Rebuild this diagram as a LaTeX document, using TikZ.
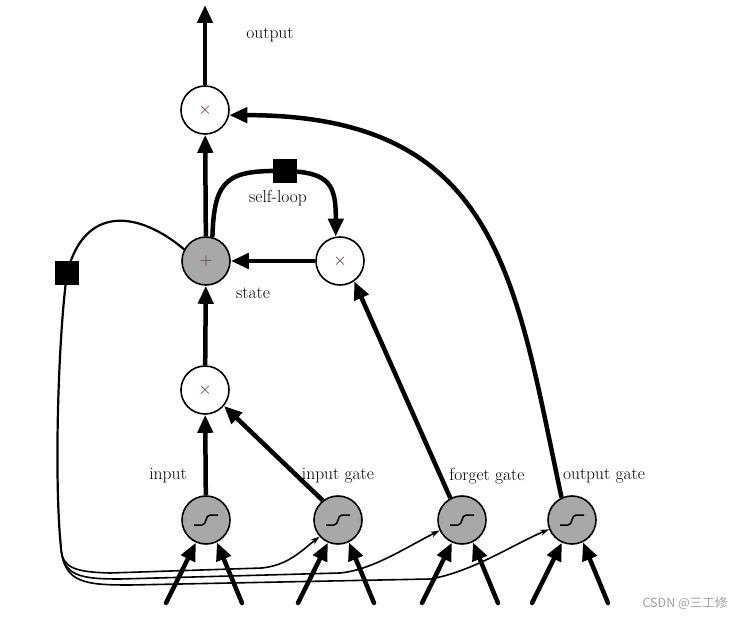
\documentclass[tikz,border=0pt]{standalone}
\usepackage{fontspec}
\newfontfamily\cjk{Noto Sans CJK SC}
\usetikzlibrary{arrows.meta}
\definecolor{sgray}{RGB}{168,168,168}
\definecolor{opcol}{RGB}{80,45,40}
\newcommand{\sigglyph}[1]{\draw[line width=1.5pt] ([shift={(-12,5)}]#1.center) -- ([shift={(-4,5)}]#1.center) .. controls ([shift={(1,5)}]#1.center) and ([shift={(-1,-5)}]#1.center) .. ([shift={(4,-5)}]#1.center) -- ([shift={(12,-5)}]#1.center);}
\begin{document}
\begin{tikzpicture}[x=1pt,y=-1pt,
  mult/.style={circle, draw, line width=1.6pt, minimum size=48pt, inner sep=0pt, fill=white, font=\fontsize{17}{18}\selectfont, text=opcol},
  sigm/.style={mult, fill=sgray},
  big/.style={line width=4.5pt, -{Triangle[length=18pt,width=15pt]}},
  bigin/.style={big, line cap=round},
  thinarr/.style={line width=1.6pt, -{Stealth[length=9pt,width=6pt]}},
  sq/.style={rectangle, fill=black, minimum size=24pt, inner sep=0pt},
  lbl/.style={font=\fontsize{17.5}{20}\selectfont}]
\useasboundingbox (0,0) rectangle (750,620);

% nodes
\node[mult] (outm) at (205,110) {$\times$};
\node[sigm] (state) at (206,261) {$+$};
\node[mult] (loopm) at (340,261) {$\times$};
\node[mult] (inm) at (205,390) {$\times$};
\node[sigm] (insig) at (206,520) {};
\node[sigm] (igate) at (338,520) {};
\node[sigm] (fgate) at (462,520) {};
\node[sigm] (ogate) at (572,520) {};
\foreach \n in {insig,igate,fgate,ogate} {\sigglyph{\n}}

% labels
\node[lbl] (l1) at (270,35) {output};
\node[lbl] (l2) at (278,198) {self-loop};
\node[lbl] (l3) at (253,293) {state};
\node[lbl] (l4) at (168,476) {input};
\node[lbl] (l5) at (338,476) {input gate};
\node[lbl] (l6) at (487,476) {forget gate};
\node[lbl] (l7) at (604,476) {output gate};

% coordinates
\coordinate (top) at (205,5);
\coordinate (p1) at (67,273);
\coordinate (p2) at (285,171);
\coordinate (split) at (61,548);

% main thick arrows
\draw[big] (outm) -- (top);
\draw[big] (state) -- (outm);
\draw[big] (inm) -- (state);
\draw[big] (insig) -- (inm);
\draw[big] (loopm) -- (state);
\draw[big] (igate.128) -- (inm.-40);
\draw[big] (fgate.118) -- (loopm.-55);
\draw[big] (ogate.115) .. controls (515,280) and (500,115) .. (outm.-12);
\draw[big] (state.75) .. controls (214,178) and (228,170) .. (p2) .. controls (330,172) and (336,185) .. (loopm.100);

% left loop
\draw[line width=2.2pt] (state.152) .. controls (140,212) and (85,203) .. (p1) .. controls (58,340) and (54,480) .. (split);
\draw[thinarr] (split) .. controls (62,568) and (75,572) .. (110,573) -- (262,568) .. controls (288,565) and (300,552) .. (igate.-138);
\draw[thinarr] (split) .. controls (63,576) and (80,579) .. (120,579) -- (340,573) .. controls (372,570) and (405,548) .. (fgate.-155);
\draw[thinarr] (split) .. controls (64,583) and (85,585) .. (130,585) -- (430,579) .. controls (472,572) and (512,545) .. (ogate.-158);

% squares
\node[sq] (s1) at (p1) {};
\node[sq] (s2) at (p2) {};

% bottom inputs
\foreach \n/\x in {insig/206,igate/338,fgate/462,ogate/572} {
  \coordinate (\n-bl) at (\x-40,603);
  \coordinate (\n-br) at (\x+36,603);
  \draw[bigin] (\n-bl) -- (\n.-114);
  \draw[bigin] (\n-br) -- (\n.-64);
}

% watermark
\node[font=\cjk\fontsize{12.5}{15}\selectfont, text=gray!75] (wm) at (685,603) {CSDN @三工修};
\end{tikzpicture}
\end{document}
